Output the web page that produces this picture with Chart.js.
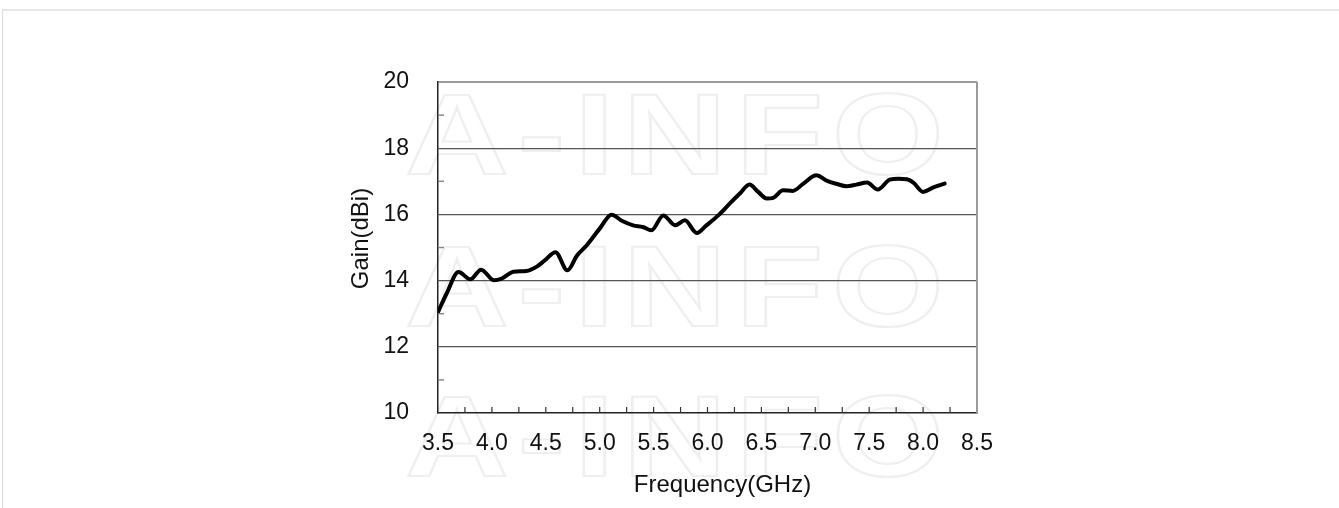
<!DOCTYPE html>
<html>
<head>
<meta charset="utf-8">
<script src="https://cdn.jsdelivr.net/npm/chart.js@4.4.1/dist/chart.umd.min.js"></script>
<style>
  html, body { margin: 0; padding: 0; background: #fff; }
  #wrap { position: relative; width: 1339px; height: 508px; overflow: hidden; }
  #card { position: absolute; left: 2px; top: 9px; right: -2px; bottom: -4px;
          border-top: 2px solid #e6e6e6; border-left: 1px solid #dcdcdc; }
  #gainChart { position: absolute; left: 0; top: 0; }
</style>
</head>
<body>
<div id="wrap">
  <div id="card"></div>
  <canvas id="gainChart" width="1339" height="508"></canvas>
</div>
<script>
// Данные
const freqGHz = [3.50, 3.58, 3.69, 3.80, 3.90, 4.02, 4.09, 4.20, 4.32, 4.42,
                 4.49, 4.59, 4.70, 4.79, 4.88, 5.00, 5.11, 5.21, 5.31, 5.40,
                 5.48, 5.59, 5.70, 5.79, 5.90, 5.99, 6.10, 6.21, 6.30, 6.39,
                 6.47, 6.55, 6.61, 6.70, 6.79, 6.89, 7.01, 7.11, 7.20, 7.29,
                 7.38, 7.48, 7.58, 7.69, 7.77, 7.85, 7.91, 8.00, 8.09, 8.20];
const gainDbi = [13.05, 13.61, 14.26, 14.04, 14.33, 14.01, 14.06, 14.27, 14.29, 14.43,
                 14.61, 14.86, 14.31, 14.76, 15.07, 15.57, 15.99, 15.80, 15.67, 15.62,
                 15.52, 15.97, 15.67, 15.82, 15.44, 15.67, 15.97, 16.34, 16.63, 16.90,
                 16.68, 16.48, 16.50, 16.73, 16.71, 16.93, 17.18, 17.01, 16.92, 16.85,
                 16.90, 16.96, 16.75, 17.05, 17.08, 17.06, 16.96, 16.68, 16.81, 16.93];
const xRange = [3.5, 8.5];
const yRange = [10, 20];
const xTitle = 'Frequency(GHz)';
const yTitle = 'Gain(dBi)';
const watermark = 'A-INFO';

const FONT = '"Liberation Sans", Arial, sans-serif';

// Водяной знак за графиком
const watermarkPlugin = {
    id: 'watermark',
    beforeDraw(chart) {
        const { ctx, chartArea } = chart;
        ctx.save();
        ctx.font = 'bold 115px ' + FONT;
        ctx.strokeStyle = '#efefef';
        ctx.lineWidth = 2;
        [92, 244, 394].forEach(dy => {
            ctx.save();
            ctx.translate(chartArea.left - 33, chartArea.top + dy);
            ctx.scale(1.25, 1);
            let cx = 0;
            for (const ch of watermark) {
                ctx.strokeText(ch, cx, 0);
                cx += ctx.measureText(ch).width + 7;
            }
            ctx.restore();
        });
        ctx.restore();
    }
};

// Рамка, внутренние засечки осей и подписи осей
const frameTicksPlugin = {
    id: 'frameTicks',
    afterDraw(chart) {
        const { ctx, chartArea, scales } = chart;
        ctx.save();
        // правая рамка
        ctx.strokeStyle = '#999';
        ctx.lineWidth = 2;
        ctx.beginPath();
        ctx.moveTo(chartArea.right, chartArea.top);
        ctx.lineTo(chartArea.right, chartArea.bottom);
        ctx.stroke();

        // засечки по X
        ctx.strokeStyle = '#333';
        ctx.lineWidth = 1.2;
        scales.x.ticks.forEach(t => {
            if (t.value <= xRange[0] || t.value >= xRange[1]) return;
            const px = scales.x.getPixelForValue(t.value);
            ctx.beginPath();
            ctx.moveTo(px, chartArea.bottom);
            ctx.lineTo(px, chartArea.bottom - 6);
            ctx.stroke();
        });

        // засечки по Y (нечётные значения)
        ctx.strokeStyle = '#888';
        ctx.lineWidth = 1.5;
        scales.y.ticks.forEach(t => {
            if (Math.round(t.value) % 2 === 0) return;
            const py = scales.y.getPixelForValue(t.value);
            ctx.beginPath();
            ctx.moveTo(chartArea.left, py);
            ctx.lineTo(chartArea.left + 6, py);
            ctx.stroke();
        });

        // подписи осей
        ctx.fillStyle = '#111';
        ctx.font = '24px ' + FONT;
        ctx.textAlign = 'center';
        ctx.textBaseline = 'middle';
        ctx.fillText(xTitle, (chartArea.left + chartArea.right) / 2 + 15, chartArea.bottom + 72);
        ctx.translate(chartArea.left - 77, (chartArea.top + chartArea.bottom) / 2 - 9);
        ctx.rotate(-Math.PI / 2);
        ctx.fillText(yTitle, 0, 0);
        ctx.restore();
    }
};

const ctx = document.getElementById('gainChart').getContext('2d');

new Chart(ctx, {
    type: 'line',
    data: {
        datasets: [{
            label: yTitle,
            data: freqGHz.map((f, i) => ({ x: f, y: gainDbi[i] })),
            borderColor: '#000',
            borderWidth: 4,
            pointRadius: 0,
            fill: false,
            cubicInterpolationMode: 'monotone',
            borderCapStyle: 'round',
            borderJoinStyle: 'round'
        }]
    },
    options: {
        responsive: false,
        animation: false,
        layout: {
            padding: { left: 340, right: 362, top: 82, bottom: 0 }
        },
        plugins: {
            legend: { display: false },
            tooltip: { enabled: false }
        },
        scales: {
            x: {
                type: 'linear',
                min: xRange[0],
                max: xRange[1],
                afterFit: (scale) => { scale.height = 95; },
                ticks: {
                    stepSize: 0.25,
                    autoSkip: false,
                    maxRotation: 0,
                    padding: 17,
                    color: '#111',
                    font: { family: FONT, size: 23 },
                    callback: (v) => {
                        const d = v * 2;
                        return Math.abs(d - Math.round(d)) < 1e-6 ? Number(v).toFixed(1) : '';
                    }
                },
                grid: { display: true, drawOnChartArea: false, drawTicks: false },
                border: { display: true, color: '#222', width: 1.5 },
                title: { display: false, text: xTitle }
            },
            y: {
                min: yRange[0],
                max: yRange[1],
                afterFit: (scale) => { scale.width = 98; },
                ticks: {
                    stepSize: 1,
                    padding: 29,
                    color: '#111',
                    font: { family: FONT, size: 23 },
                    callback: (v) => (Math.round(v) % 2 === 0 ? String(v) : '')
                },
                grid: {
                    drawTicks: false,
                    color: (c) => {
                        const v = c.tick ? c.tick.value : 0;
                        if (v === 20) return '#999';
                        if (v === 10 || v % 2 !== 0) return 'rgba(0,0,0,0)';
                        return '#555';
                    },
                    lineWidth: (c) => (c.tick && c.tick.value === 20 ? 2 : 1.2)
                },
                border: { display: true, color: '#222', width: 1.5 },
                title: { display: false, text: yTitle }
            }
        }
    },
    plugins: [watermarkPlugin, frameTicksPlugin]
});
</script>
</body>
</html>
